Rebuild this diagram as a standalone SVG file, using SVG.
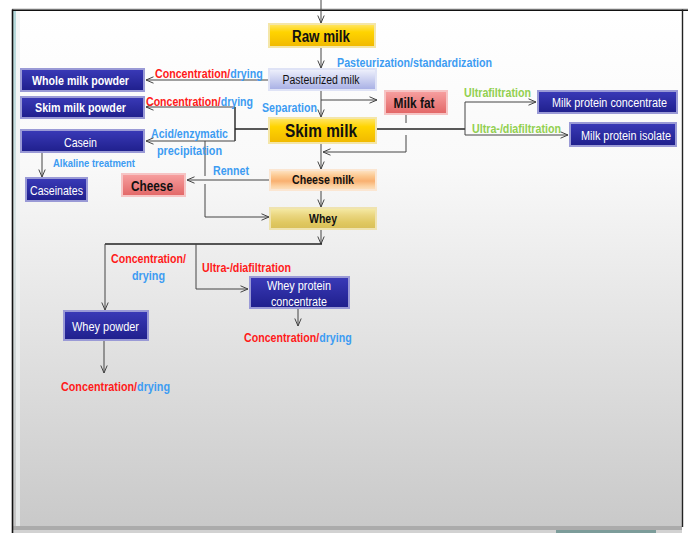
<svg xmlns="http://www.w3.org/2000/svg" width="688" height="533" viewBox="0 0 688 533">
<defs>
<linearGradient id="bg" x1="0" y1="0" x2="0" y2="1">
<stop offset="0" stop-color="#ffffff"/>
<stop offset="0.3" stop-color="#f9f9f9"/>
<stop offset="1" stop-color="#c9c9c9"/>
</linearGradient>
<linearGradient id="strip" x1="0" y1="0" x2="0" y2="1">
<stop offset="0" stop-color="#b3d8da"/>
<stop offset="0.4" stop-color="#d8e4e4"/>
<stop offset="1" stop-color="#c4c4c4"/>
</linearGradient>
<linearGradient id="gYellow" x1="0" y1="0" x2="0" y2="1">
<stop offset="0" stop-color="#ffe66a"/>
<stop offset="0.35" stop-color="#ffd400"/>
<stop offset="1" stop-color="#f0b800"/>
</linearGradient>
<linearGradient id="gNavy" x1="0" y1="0" x2="0" y2="1">
<stop offset="0" stop-color="#3a3ab8"/>
<stop offset="1" stop-color="#1f1f8c"/>
</linearGradient>
<linearGradient id="gPast" x1="0" y1="0" x2="0" y2="1">
<stop offset="0" stop-color="#f0f2fc"/>
<stop offset="1" stop-color="#a6aee4"/>
</linearGradient>
<linearGradient id="gPink" x1="0" y1="0" x2="0" y2="1">
<stop offset="0" stop-color="#f7a0a0"/>
<stop offset="1" stop-color="#e26666"/>
</linearGradient>
<linearGradient id="gCheeseMilk" x1="0" y1="0" x2="0" y2="1">
<stop offset="0" stop-color="#fee6c8"/>
<stop offset="0.3" stop-color="#fcc890"/>
<stop offset="0.55" stop-color="#f9b070"/>
<stop offset="0.8" stop-color="#fcd0a0"/>
<stop offset="1" stop-color="#fde2c4"/>
</linearGradient>
<linearGradient id="gWhey" x1="0" y1="0" x2="0" y2="1">
<stop offset="0" stop-color="#f6eca8"/>
<stop offset="0.35" stop-color="#ead680"/>
<stop offset="0.7" stop-color="#e0c860"/>
<stop offset="1" stop-color="#d8bf58"/>
</linearGradient>
<marker id="arr" viewBox="0 0 8 8" refX="8" refY="4" markerWidth="8" markerHeight="8" orient="auto" markerUnits="userSpaceOnUse">
<path d="M0.5,0.8 L8,4 L0.5,7.2" fill="none" stroke="#444" stroke-width="1"/>
</marker>
</defs>
<style>
.box{stroke-width:2}
.yellow{fill:url(#gYellow);stroke:#f4e6a8}
.navy{fill:url(#gNavy);stroke:#9a9ad6}
.past{fill:url(#gPast);stroke:#dfe3f6}
.pink{fill:url(#gPink);stroke:#f6c4c4}
.cmilk{fill:url(#gCheeseMilk);stroke:#fbe6d2}
.whey{fill:url(#gWhey);stroke:#efe3b0}
text{font-family:"Liberation Sans",Arial,sans-serif}
.b{font-weight:bold}
.dk{fill:#111}
.wt{fill:#ffffff}
.red{fill:#ff1a1a;font-weight:bold}
.blue{fill:#3d9cf2;font-weight:bold}
.green{fill:#92d050;font-weight:bold}
.c{text-anchor:middle}
.ln{fill:none;stroke:#444;stroke-width:1}
.lk{fill:none;stroke:#222;stroke-width:1.4}
.ar{marker-end:url(#arr)}
</style>

<!-- background frame -->
<rect x="0" y="0" width="688" height="533" fill="#ffffff"/>
<rect x="13" y="10" width="669" height="517" fill="url(#bg)"/>
<rect x="13" y="10" width="3" height="517" fill="url(#strip)"/>
<rect x="16" y="10" width="4" height="517" fill="#eef2f2" opacity="0.7"/>
<rect x="13" y="526" width="669" height="4" fill="#ababab"/>
<rect x="13" y="530" width="669" height="3" fill="#d2d2d2"/>
<rect x="556" y="530" width="100" height="3" fill="#7c9c9a"/>
<line x1="12" y1="9" x2="688" y2="9" stroke="#bbbbbb" stroke-width="1"/>
<line x1="12" y1="10.3" x2="688" y2="10.3" stroke="#111" stroke-width="1.6"/>
<line x1="12.5" y1="9.5" x2="12.5" y2="533" stroke="#111" stroke-width="1.6"/>
<line x1="682.5" y1="9.5" x2="682.5" y2="527" stroke="#222" stroke-width="1.4"/>

<!-- connectors -->
<g id="connectors">
<path class="ln ar" d="M321,0 V23"/>
<path class="ln ar" d="M321,47 V68"/>
<path class="ln ar" d="M269,80 H146"/>
<path class="ln ar" d="M321,90 V117"/>
<path class="ln ar" d="M321,100 H377"/>
<path class="ln" d="M406,114 V123"/>
<path class="ln ar" d="M406,135 V152 H323"/>
<path class="ln ar" d="M321,143 V169"/>
<path class="lk" d="M269,129 H235"/>
<path class="lk" d="M235,107 V141"/>
<path class="ln ar" d="M235,107 H146"/>
<path class="ln ar" d="M235,141 H146"/>
<path class="ln ar" d="M42,153 V177"/>
<path class="ln" d="M205,141 V176"/>
<path class="ln ar" d="M205,184 V217 H269"/>
<path class="ln ar" d="M269,180 H187"/>
<path class="ln ar" d="M321,190 V207"/>
<path class="ln ar" d="M321,229 V244"/>
<path class="lk" d="M322,244 H105"/>
<path class="ln ar" d="M105,244 V310"/>
<path class="ln ar" d="M196,244 V289 H248"/>
<path class="ln ar" d="M298,308 V326"/>
<path class="ln ar" d="M104,340 V373"/>
<path class="lk" d="M376,129 H465"/>
<path class="ln" d="M465,102 V135"/>
<path class="ln ar" d="M465,102 H536"/>
<path class="ln ar" d="M465,135 H568"/>
</g>

<!-- nodes -->
<g id="raw-milk">
<rect class="box yellow" x="269" y="24" width="106" height="23"/>
<text class="b dk c" x="321" y="41.5" font-size="16" textLength="58" lengthAdjust="spacingAndGlyphs">Raw milk</text>
</g>
<g id="pasteurized-milk">
<rect class="box past" x="269" y="69" width="107" height="21"/>
<text class="dk c" x="321" y="84" font-size="12" textLength="77" lengthAdjust="spacingAndGlyphs">Pasteurized milk</text>
</g>
<g id="skim-milk">
<rect class="box yellow" x="269" y="118" width="107" height="25"/>
<text class="b dk c" x="321" y="136.5" font-size="18" textLength="72" lengthAdjust="spacingAndGlyphs">Skim milk</text>
</g>
<g id="milk-fat">
<rect class="box pink" x="385" y="91" width="62" height="23"/>
<text class="b dk c" x="414" y="108" font-size="14" textLength="41" lengthAdjust="spacingAndGlyphs">Milk fat</text>
</g>
<g id="cheese-milk">
<rect class="box cmilk" x="270" y="170" width="106" height="20"/>
<text class="b dk c" x="323" y="184" font-size="13" textLength="62" lengthAdjust="spacingAndGlyphs">Cheese milk</text>
</g>
<g id="whey">
<rect class="box whey" x="270" y="208" width="106" height="21"/>
<text class="b dk c" x="323" y="223" font-size="13" textLength="28" lengthAdjust="spacingAndGlyphs">Whey</text>
</g>
<g id="cheese">
<rect class="box pink" x="122" y="174" width="63" height="22"/>
<text class="b dk c" x="152" y="190.5" font-size="15" textLength="42" lengthAdjust="spacingAndGlyphs">Cheese</text>
</g>
<g id="whole-milk-powder">
<rect class="box navy" x="21" y="69" width="123" height="22"/>
<text class="b wt c" x="80.5" y="85" font-size="12" textLength="97" lengthAdjust="spacingAndGlyphs">Whole milk powder</text>
</g>
<g id="skim-milk-powder">
<rect class="box navy" x="21" y="97" width="123" height="21"/>
<text class="b wt c" x="80.5" y="111.5" font-size="12" textLength="91" lengthAdjust="spacingAndGlyphs">Skim milk powder</text>
</g>
<g id="casein">
<rect class="box navy" x="21" y="130" width="123" height="22"/>
<text class="wt c" x="80.5" y="146.5" font-size="13" textLength="33" lengthAdjust="spacingAndGlyphs">Casein</text>
</g>
<g id="caseinates">
<rect class="box navy" x="26" y="178" width="61" height="23"/>
<text class="wt c" x="56.5" y="194.5" font-size="13" textLength="53" lengthAdjust="spacingAndGlyphs">Caseinates</text>
</g>
<g id="milk-protein-concentrate">
<rect class="box navy" x="538" y="91" width="139" height="22"/>
<text class="wt c" x="609.5" y="107" font-size="12" textLength="115" lengthAdjust="spacingAndGlyphs">Milk protein concentrate</text>
</g>
<g id="milk-protein-isolate">
<rect class="box navy" x="570" y="123" width="106" height="23"/>
<text class="wt c" x="626" y="139.5" font-size="12" textLength="90" lengthAdjust="spacingAndGlyphs">Milk protein isolate</text>
</g>
<g id="whey-protein-concentrate">
<rect class="box navy" x="250" y="277" width="99" height="31"/>
<text class="wt c" x="299" y="289.5" font-size="12" textLength="64" lengthAdjust="spacingAndGlyphs">Whey protein</text>
<text class="wt c" x="299" y="306" font-size="12" textLength="56" lengthAdjust="spacingAndGlyphs">concentrate</text>
</g>
<g id="whey-powder">
<rect class="box navy" x="64" y="311" width="84" height="29"/>
<text class="wt c" x="105.5" y="331" font-size="12" textLength="67" lengthAdjust="spacingAndGlyphs">Whey powder</text>
</g>

<!-- labels -->
<g id="labels" font-size="13">
<text class="blue" x="337" y="66.5" textLength="155" lengthAdjust="spacingAndGlyphs">Pasteurization/standardization</text>
<text transform="translate(155,77.5) scale(0.82,1)"><tspan class="red">Concentration/</tspan><tspan class="blue">drying</tspan></text>
<text transform="translate(146,105.5) scale(0.815,1)"><tspan class="red">Concentration/</tspan><tspan class="blue">drying</tspan></text>
<text class="blue" x="262" y="111.5" textLength="55" lengthAdjust="spacingAndGlyphs">Separation</text>
<text class="blue" x="151" y="137.5" textLength="77" lengthAdjust="spacingAndGlyphs">Acid/enzymatic</text>
<text class="blue" x="157" y="154.5" textLength="65" lengthAdjust="spacingAndGlyphs">precipitation</text>
<text class="blue" x="53" y="167" font-size="10.5" textLength="82" lengthAdjust="spacingAndGlyphs">Alkaline  treatment</text>
<text class="blue" x="213" y="174.5" textLength="36" lengthAdjust="spacingAndGlyphs">Rennet</text>
<text class="green" x="464" y="96.5" textLength="67" lengthAdjust="spacingAndGlyphs">Ultrafiltration</text>
<text class="green" x="472" y="132.5" textLength="89" lengthAdjust="spacingAndGlyphs">Ultra-/diafiltration</text>
<text class="red" x="111" y="262.5" textLength="75" lengthAdjust="spacingAndGlyphs">Concentration/</text>
<text class="blue" x="132" y="279.5" textLength="33" lengthAdjust="spacingAndGlyphs">drying</text>
<text class="red" x="202" y="271.5" textLength="89" lengthAdjust="spacingAndGlyphs">Ultra-/diafiltration</text>
<text transform="translate(244,341.5) scale(0.82,1)"><tspan class="red">Concentration/</tspan><tspan class="blue">drying</tspan></text>
<text transform="translate(61,390.5) scale(0.83,1)"><tspan class="red">Concentration/</tspan><tspan class="blue">drying</tspan></text>
</g>
</svg>
